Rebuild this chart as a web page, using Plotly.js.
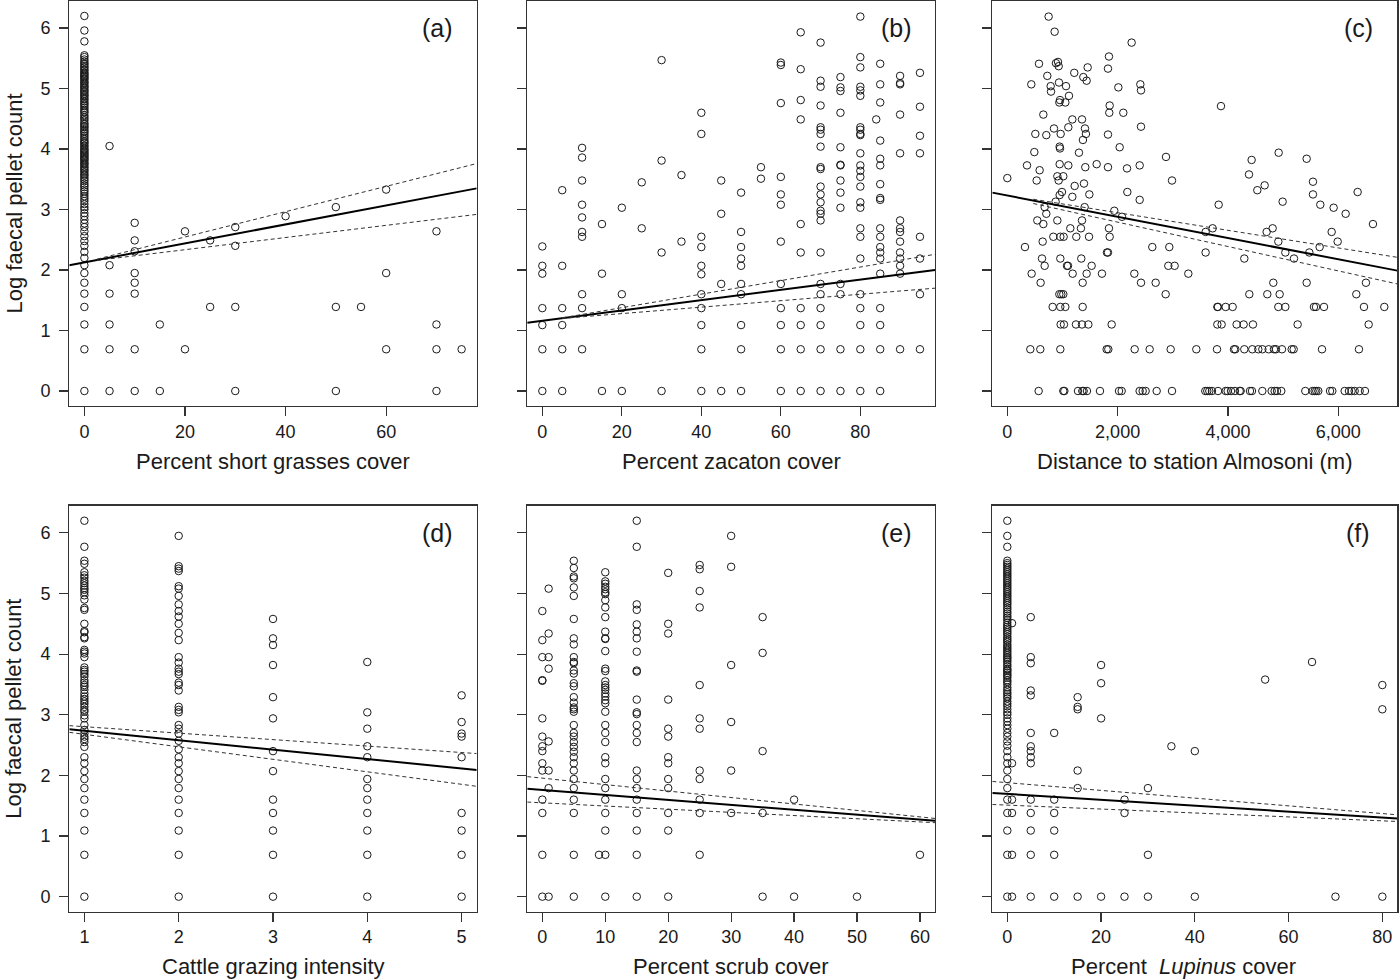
<!DOCTYPE html>
<html>
<head>
<meta charset="utf-8">
<script src="https://cdn.plot.ly/plotly-3.0.1.min.js"></script>
<style>
  html, body { margin: 0; padding: 0; background: #fff; }
  #chart { width: 1400px; height: 980px; }
</style>
</head>
<body>
<div id="chart"></div>
<script>
// ---- data (y = log faecal pellet count) ----

// (a) percent short grasses cover
const shortX = [0, 5, 10, 15, 20, 25, 30, 40, 50, 55, 60, 70, 75];
const shortY = [
  [0, 0.69, 1.10, 1.39, 1.61, 1.79, 1.95, 2.08, 2.20, 2.30, 2.40, 2.48, 2.56, 2.64, 2.71, 2.77, 2.83, 2.89,
   2.94, 3.00, 3.04, 3.09, 3.14, 3.18, 3.22, 3.26, 3.30, 3.33, 3.37, 3.40, 3.43, 3.47, 3.50, 3.53, 3.56,
   3.58, 3.61, 3.64, 3.66, 3.69, 3.71, 3.74, 3.76, 3.78, 3.81, 3.83, 3.85, 3.87, 3.89, 3.91, 3.93, 3.95,
   3.97, 3.99, 4.01, 4.04, 4.06, 4.09, 4.11, 4.13, 4.16, 4.19, 4.22, 4.25, 4.28, 4.30, 4.33, 4.36, 4.38,
   4.41, 4.43, 4.47, 4.50, 4.53, 4.56, 4.60, 4.62, 4.65, 4.68, 4.71, 4.74, 4.76, 4.79, 4.82, 4.84, 4.87,
   4.89, 4.91, 4.94, 4.96, 4.98, 5.01, 5.03, 5.05, 5.08, 5.10, 5.12, 5.15, 5.17, 5.19, 5.21, 5.23, 5.25,
   5.27, 5.30, 5.32, 5.35, 5.37, 5.40, 5.42, 5.45, 5.48, 5.52, 5.55, 5.78, 5.96, 6.20],
  [4.05, 2.08, 1.61, 1.10, 0.69, 0],
  [2.78, 2.49, 2.31, 1.95, 1.79, 1.61, 0.69, 0],
  [1.10, 0],
  [2.64, 0.69],
  [2.49, 1.39],
  [2.71, 2.40, 1.39, 0],
  [2.89],
  [3.04, 1.39, 0],
  [1.39],
  [3.33, 1.95, 0.69],
  [2.64, 1.10, 0.69, 0],
  [0.69]
];
const shortFitX = [-3, 78],  shortFitY = [2.08, 3.35];
const shortCiX  = [2.5, 78], shortUpY  = [2.18, 3.76], shortLoY = [2.16, 2.92];

// (b) percent zacaton cover
const zacX = [0, 5, 10, 15, 20, 25, 30, 35, 40, 45, 50, 55, 60, 65, 70, 75, 80, 84, 85, 90, 95];
const zacY = [
  [2.39, 2.07, 1.94, 1.37, 1.09, 0.69, 0],
  [3.32, 2.07, 1.37, 1.09, 0.69, 0],
  [4.02, 3.86, 3.48, 3.08, 2.87, 2.63, 2.55, 1.60, 1.37, 0.69],
  [2.76, 1.94, 0],
  [3.03, 1.60, 1.37, 0],
  [3.45, 2.69],
  [5.47, 3.81, 2.29, 0],
  [3.57, 2.47],
  [4.60, 4.25, 2.55, 2.38, 2.07, 1.93, 1.60, 1.37, 1.09, 0.69, 0],
  [3.48, 2.93, 1.77, 0],
  [3.28, 2.63, 2.38, 2.19, 2.07, 1.77, 1.60, 1.09, 0.69, 0],
  [3.70, 3.51],
  [5.43, 5.39, 4.76, 3.54, 3.25, 3.08, 2.47, 1.77, 1.37, 1.09, 0.69, 0],
  [5.93, 5.32, 4.81, 4.49, 2.76, 2.29, 1.37, 1.09, 0.69, 0],
  [5.76, 5.13, 5.03, 4.72, 4.36, 4.32, 4.25, 4.04, 3.70, 3.67, 3.38, 3.25, 3.12, 2.98, 2.93, 2.82,
   2.29, 1.77, 1.60, 1.37, 1.09, 0.69, 0],
  [5.19, 5.02, 4.96, 4.60, 4.03, 3.74, 3.73, 3.48, 3.28, 3.03, 1.77, 1.60, 0.69, 0],
  [6.19, 5.52, 5.35, 5.03, 4.97, 4.88, 4.36, 4.32, 4.25, 4.23, 3.93, 3.73, 3.64, 3.54, 3.38, 3.12,
   3.03, 2.69, 2.55, 2.19, 1.60, 1.37, 1.09, 0.69, 0],
  [4.49],
  [5.41, 5.07, 4.77, 4.14, 3.84, 3.73, 3.42, 3.19, 3.16, 2.69, 2.55, 2.38, 2.29, 2.19, 1.94, 1.37,
   1.09, 0.69, 0],
  [5.21, 5.09, 5.07, 4.57, 3.93, 2.82, 2.69, 2.63, 2.47, 2.29, 2.19, 2.07, 1.94, 0.69],
  [5.26, 4.70, 4.22, 3.93, 2.55, 2.19, 1.60, 0.69]
];
const zacFitX = [-3.8, 98.8], zacFitY = [1.13, 2.00];
const zacCiX  = [5, 98.8],    zacUpY  = [1.21, 2.26], zacLoY = [1.20, 1.70];

// (c) distance to station Almosoni (m)
const distX = [749, 858, 2254, 1843, 574, 882, 919, 931, 1457, 1825, 1214, 725, 1378, 1438, 937, 435,
  786, 1064, 2412, 2424, 2013, 792, 1118, 955, 943, 1052, 1856, 3874, 1849, 2103, 653, 1179, 1354, 1106,
  846, 1408, 2424, 508, 707, 967, 1426, 1825, 1371, 949, 955, 2037, 490, 1299, 4920, 2877, 5428, 4430,
  357, 949, 1106, 1620, 2400, 1825, 1414, 2170, 586, 0, 907, 1015, 4382, 532, 931, 1221, 1390, 2986,
  5542, 4666, 4533, 991, 2176, 6352, 1487, 5542, 949, 1179, 2400, 876, 4992, 3832, 5675, 677, 1402,
  5917, 1940, 707, 6135, 2079, 544, 907, 1354, 653, 6630, 1142, 1335, 1843, 3723, 4811, 3596, 4702,
  5881, 834, 961, 1021, 1251, 1481, 1856, 4914, 5990, 641, 320, 2629, 2937, 5663, 1807, 1825, 3596,
  5041, 5476, 629, 961, 1341, 4297, 5198, 677, 1082, 1100, 1529, 2919, 3034, 441, 1185, 1438, 1716,
  2303, 3282, 604, 1366, 2424, 2690, 4823, 5428, 6503, 943, 979, 1015, 2871, 4388, 4714, 4938, 6328];
const distY = [6.19, 5.94, 5.76, 5.53, 5.41, 5.42, 5.44, 5.37, 5.35, 5.33, 5.26, 5.21, 5.19, 5.13, 5.10,
  5.07, 5.04, 5.04, 5.07, 4.97, 5.02, 4.95, 4.88, 4.81, 4.77, 4.77, 4.72, 4.71, 4.60, 4.60, 4.57, 4.49,
  4.49, 4.36, 4.34, 4.34, 4.37, 4.25, 4.23, 4.25, 4.25, 4.24, 4.15, 4.04, 4.01, 4.03, 3.95, 3.94, 3.94,
  3.87, 3.84, 3.82, 3.73, 3.75, 3.73, 3.75, 3.73, 3.70, 3.70, 3.68, 3.65, 3.52, 3.55, 3.55, 3.58, 3.48,
  3.48, 3.39, 3.43, 3.48, 3.46, 3.40, 3.32, 3.29, 3.29, 3.29, 3.25, 3.25, 3.24, 3.21, 3.16, 3.13, 3.13,
  3.08, 3.08, 3.04, 3.04, 3.03, 2.98, 2.93, 2.93, 2.88, 2.82, 2.82, 2.82, 2.76, 2.76, 2.69, 2.69, 2.69,
  2.69, 2.69, 2.63, 2.63, 2.63, 2.55, 2.55, 2.55, 2.55, 2.55, 2.55, 2.47, 2.47, 2.47, 2.38, 2.38, 2.38,
  2.38, 2.29, 2.29, 2.29, 2.29, 2.29, 2.19, 2.19, 2.19, 2.19, 2.19, 2.07, 2.07, 2.07, 2.07, 2.07, 2.07,
  1.94, 1.94, 1.94, 1.94, 1.94, 1.94, 1.79, 1.79, 1.79, 1.79, 1.79, 1.79, 1.79, 1.60, 1.60, 1.60, 1.60,
  1.60, 1.60, 1.60, 1.60];
const distRowY = [1.39, 1.10, 0.69, 0];
const distRowX = [
  [822, 961, 1052, 1366, 3808, 3820, 3959, 4086, 4914, 5041, 5560, 5597, 5742, 6467, 6836],
  [967, 1027, 1245, 1354, 1469, 1892, 3808, 3886, 4158, 4285, 4454, 5264, 6552],
  [417, 598, 961, 1801, 1831, 2309, 2581, 2962, 3427, 3802, 4110, 4134, 4297, 4442, 4551, 4624, 4739,
   4835, 4871, 4980, 5156, 5192, 5706, 6376],
  [568, 1015, 1034, 1281, 1360, 1384, 1444, 1680, 2025, 2073, 2399, 2454, 2508, 2708, 2986, 3590, 3626,
   3663, 3711, 3820, 3959, 3995, 4056, 4128, 4213, 4231, 4400, 4436, 4624, 4793, 4847, 4890, 4968, 5403,
   5536, 5573, 5603, 5639, 5851, 5893, 6117, 6195, 6243, 6298, 6389, 6485]
];
const distFitX = [-272, 7072], distFitY = [3.28, 1.99];
const distCiX  = [471, 7072],  distUpY  = [3.17, 2.21], distLoY = [3.10, 1.77];

// (d) cattle grazing intensity
const grazeX = [1, 2, 3, 4, 5];
const grazeY = [
  [0, 0.69, 1.09, 1.38, 1.60, 1.79, 1.94, 2.07, 2.20, 2.30, 2.47, 2.55, 2.60, 2.64, 2.69, 2.75, 2.83,
   2.94, 2.99, 3.05, 3.08, 3.13, 3.18, 3.22, 3.26, 3.30, 3.35, 3.41, 3.46, 3.49, 3.53, 3.57, 3.63, 3.67,
   3.71, 3.74, 3.78, 3.95, 4.01, 4.04, 4.07, 4.26, 4.28, 4.36, 4.38, 4.50, 4.73, 4.76, 4.90, 4.97, 5.02,
   5.06, 5.09, 5.13, 5.17, 5.21, 5.26, 5.30, 5.35, 5.49, 5.54, 5.77, 6.20],
  [0, 0.69, 1.09, 1.38, 1.60, 1.79, 1.94, 2.07, 2.20, 2.30, 2.43, 2.57, 2.69, 2.77, 2.83, 3.04, 3.08,
   3.13, 3.40, 3.49, 3.53, 3.67, 3.71, 3.76, 3.86, 3.95, 4.23, 4.35, 4.50, 4.62, 4.71, 4.82, 4.96, 5.08,
   5.12, 5.37, 5.41, 5.45, 5.95],
  [0, 0.69, 1.09, 1.38, 1.60, 2.07, 2.40, 2.94, 3.29, 3.82, 4.15, 4.26, 4.58],
  [0, 0.69, 1.09, 1.38, 1.60, 1.79, 1.94, 2.30, 2.48, 2.77, 3.04, 3.87],
  [0, 0.69, 1.09, 1.38, 2.30, 2.64, 2.69, 2.88, 3.32]
];
const grazeFitX = [0.84, 5.16], grazeFitY = [2.76, 2.09];
const grazeCiX  = [0.84, 5.16], grazeUpY  = [2.82, 2.36], grazeLoY = [2.71, 1.82];

// (e) percent scrub cover
const scrubX = [0, 1, 5, 9, 10, 15, 20, 25, 30, 35, 40, 50, 60];
const scrubY = [
  [4.71, 4.23, 3.95, 3.57, 3.56, 2.94, 2.64, 2.48, 2.40, 2.20, 2.08, 1.60, 1.38, 0.69, 0],
  [5.08, 4.34, 3.95, 3.76, 2.56, 2.08, 1.79, 0],
  [5.54, 5.42, 5.28, 5.25, 5.10, 4.96, 4.58, 4.26, 4.16, 3.95, 3.87, 3.85, 3.73, 3.68, 3.52, 3.47, 3.29,
   3.20, 3.12, 3.09, 3.05, 2.83, 2.70, 2.64, 2.55, 2.47, 2.39, 2.30, 2.20, 2.08, 1.94, 1.79, 1.60, 1.38,
   0.69, 0],
  [0.69],
  [5.35, 5.20, 5.16, 5.11, 5.07, 5.02, 4.99, 4.89, 4.77, 4.61, 4.37, 4.26, 4.25, 4.05, 3.76, 3.72, 3.55,
   3.49, 3.45, 3.41, 3.35, 3.30, 3.24, 3.19, 3.05, 2.83, 2.70, 2.55, 2.30, 2.20, 1.94, 1.79, 1.60, 1.38,
   1.09, 0.69, 0],
  [6.20, 5.77, 4.82, 4.73, 4.49, 4.37, 4.26, 4.04, 3.73, 3.71, 3.25, 3.04, 3.01, 2.83, 2.70, 2.55, 2.08,
   1.94, 1.79, 1.60, 1.38, 1.09, 0.69, 0],
  [5.34, 4.50, 4.34, 3.25, 2.77, 2.64, 2.30, 2.20, 1.94, 1.79, 1.38, 1.09, 0],
  [5.47, 5.40, 5.04, 4.77, 3.49, 2.94, 2.77, 2.08, 1.94, 1.60, 1.38, 0.69],
  [5.95, 5.44, 3.82, 2.88, 2.08, 1.38],
  [4.61, 4.02, 2.40, 1.38, 0],
  [1.60, 0],
  [0],
  [0.69]
];
const scrubFitX = [-2.4, 62.4], scrubFitY = [1.78, 1.25];
const scrubCiX  = [-2.4, 62.4], scrubUpY  = [1.98, 1.29], scrubLoY = [1.56, 1.22];

// (f) percent Lupinus cover
const lupX = [0, 1, 5, 10, 15, 20, 25, 30, 35, 40, 55, 65, 70, 80];
const lupY = [
  [0, 0.69, 1.09, 1.38, 1.60, 1.79, 1.94, 2.08, 2.20, 2.30, 2.40, 2.49, 2.56, 2.64, 2.70, 2.77, 2.83,
   2.89, 2.94, 3.00, 3.04, 3.09, 3.14, 3.18, 3.22, 3.27, 3.30, 3.34, 3.37, 3.41, 3.45, 3.50, 3.54, 3.57,
   3.61, 3.64, 3.66, 3.69, 3.72, 3.74, 3.76, 3.80, 3.83, 3.87, 3.90, 3.93, 3.95, 3.98, 4.01, 4.04, 4.07,
   4.10, 4.13, 4.16, 4.20, 4.23, 4.26, 4.29, 4.33, 4.36, 4.39, 4.42, 4.45, 4.48, 4.52, 4.56, 4.60, 4.63,
   4.67, 4.70, 4.74, 4.77, 4.81, 4.84, 4.87, 4.90, 4.93, 4.96, 4.99, 5.02, 5.05, 5.08, 5.11, 5.14, 5.17,
   5.20, 5.23, 5.26, 5.29, 5.32, 5.35, 5.38, 5.41, 5.44, 5.47, 5.50, 5.54, 5.77, 5.95, 6.20],
  [4.51, 2.20, 1.60, 1.38, 0.69, 0],
  [4.61, 3.95, 3.85, 3.40, 3.32, 2.70, 2.48, 2.40, 2.30, 2.20, 1.60, 1.38, 1.09, 0.69, 0],
  [2.70, 1.60, 1.38, 1.09, 0.69, 0],
  [3.29, 3.13, 3.09, 2.08, 1.79, 0],
  [3.82, 3.52, 2.94, 0],
  [1.60, 1.38, 0],
  [1.79, 0.69, 0],
  [2.48],
  [2.40, 0],
  [3.58],
  [3.87],
  [0],
  [3.49, 3.09, 0]
];
const lupFitX = [-3.2, 83.2], lupFitY = [1.71, 1.29];
const lupCiX  = [-3.2, 83.2], lupUpY  = [1.90, 1.35], lupLoY = [1.52, 1.24];

// ---- layout geometry (paper fractions) ----
const colDomains = [[0.0495, 0.3405], [0.3766, 0.6679], [0.7088, 0.9981]];
const rowDomains = [[0.5857, 0.9990], [0.0697, 0.4840]];
const yRange = [-0.248, 6.448];

function flatten(xs, groups) {
  const x = [], y = [];
  groups.forEach((g, i) => g.forEach(v => { x.push(xs[i]); y.push(v); }));
  return { x, y };
}
function flattenRows(ys, groups) {
  const x = [], y = [];
  groups.forEach((g, i) => g.forEach(v => { x.push(v); y.push(ys[i]); }));
  return { x, y };
}

const rows = flattenRows(distRowY, distRowX);
const panels = [
  { pts: flatten(shortX, shortY), fitX: shortFitX, fitY: shortFitY, ciX: shortCiX, up: shortUpY, lo: shortLoY,
    range: [-3, 78], ticks: [0, 20, 40, 60], label: '(a)', title: 'Percent short grasses cover' },
  { pts: flatten(zacX, zacY), fitX: zacFitX, fitY: zacFitY, ciX: zacCiX, up: zacUpY, lo: zacLoY,
    range: [-3.8, 98.8], ticks: [0, 20, 40, 60, 80], label: '(b)', title: 'Percent zacaton cover' },
  { pts: { x: distX.concat(rows.x), y: distY.concat(rows.y) }, fitX: distFitX, fitY: distFitY, ciX: distCiX,
    up: distUpY, lo: distLoY, range: [-272, 7072], ticks: [0, 2000, 4000, 6000], fmt: ',',
    label: '(c)', title: 'Distance to station Almosoni (m)' },
  { pts: flatten(grazeX, grazeY), fitX: grazeFitX, fitY: grazeFitY, ciX: grazeCiX, up: grazeUpY, lo: grazeLoY,
    range: [0.84, 5.16], ticks: [1, 2, 3, 4, 5], label: '(d)', title: 'Cattle grazing intensity' },
  { pts: flatten(scrubX, scrubY), fitX: scrubFitX, fitY: scrubFitY, ciX: scrubCiX, up: scrubUpY, lo: scrubLoY,
    range: [-2.4, 62.4], ticks: [0, 10, 20, 30, 40, 50, 60], label: '(e)', title: 'Percent scrub cover' },
  { pts: flatten(lupX, lupY), fitX: lupFitX, fitY: lupFitY, ciX: lupCiX, up: lupUpY, lo: lupLoY,
    range: [-3.2, 83.2], ticks: [0, 20, 40, 60, 80], label: '(f)', title: 'Percent&nbsp; <i>Lupinus</i> cover',
    titleX: 1183 }
];

const ink = '#1a1a1a';
const axisBase = {
  showline: true, mirror: true, linecolor: '#333', linewidth: 1.2,
  ticks: 'outside', ticklen: 9, tickwidth: 1.2, tickcolor: '#333',
  showgrid: false, zeroline: false, fixedrange: true,
  tickfont: { size: 18, color: ink }
};

const traces = [];
const layout = {
  width: 1400, height: 980,
  margin: { l: 0, r: 0, t: 0, b: 0 },
  paper_bgcolor: '#fff', plot_bgcolor: '#fff',
  showlegend: false,
  font: { family: 'Liberation Sans, Arial, Helvetica, sans-serif', color: ink },
  annotations: []
};

panels.forEach((p, i) => {
  const n = i + 1;
  const col = i % 3, row = Math.floor(i / 3);
  const xa = n === 1 ? 'x' : 'x' + n;
  const ya = n === 1 ? 'y' : 'y' + n;
  const sub = { xaxis: xa, yaxis: ya, hoverinfo: 'skip' };

  traces.push(Object.assign({
    type: 'scatter', mode: 'markers', x: p.pts.x, y: p.pts.y,
    marker: { symbol: 'circle-open', size: 7.5, color: ink, line: { width: 1, color: ink } },
    cliponaxis: false
  }, sub));
  traces.push(Object.assign({
    type: 'scatter', mode: 'lines', x: p.fitX, y: p.fitY,
    line: { color: '#000', width: 2 }
  }, sub));
  [p.up, p.lo].forEach(ci => traces.push(Object.assign({
    type: 'scatter', mode: 'lines', x: p.ciX, y: ci,
    line: { color: '#333', width: 1, dash: '4px,3px' }
  }, sub)));

  layout['xaxis' + (n === 1 ? '' : n)] = Object.assign({}, axisBase, {
    domain: colDomains[col], anchor: ya, range: p.range,
    tickvals: p.ticks, tickformat: p.fmt || '', ticklabelstandoff: 0
  });
  layout['yaxis' + (n === 1 ? '' : n)] = Object.assign({}, axisBase, {
    domain: rowDomains[row], anchor: xa, range: yRange,
    tickvals: [0, 1, 2, 3, 4, 5, 6], showticklabels: col === 0, ticklabelstandoff: 5
  });

  const d = colDomains[col], r = rowDomains[row];
  // panel letter, top right inside the box
  layout.annotations.push({
    xref: 'paper', yref: 'paper', x: d[1] - 39 / 1400, y: r[1] - 27 / 980,
    text: p.label, showarrow: false, xanchor: 'center', yanchor: 'middle',
    font: { size: 25, color: ink }
  });
  // x axis title
  const tx = p.titleX ? p.titleX / 1400 : (d[0] + d[1]) / 2;
  layout.annotations.push({
    xref: 'paper', yref: 'paper', x: tx, y: r[0] - 55 / 980,
    text: p.title, showarrow: false, xanchor: 'center', yanchor: 'middle',
    font: { size: 22, color: ink }
  });
});

// y axis titles
rowDomains.forEach(r => layout.annotations.push({
  xref: 'paper', yref: 'paper', x: 14 / 1400, y: (r[0] + r[1]) / 2,
  text: 'Log faecal pellet count', textangle: -90, showarrow: false,
  xanchor: 'center', yanchor: 'middle', font: { size: 22, color: ink }
}));

Plotly.newPlot('chart', traces, layout, { staticPlot: true, displayModeBar: false });
</script>
</body>
</html>
